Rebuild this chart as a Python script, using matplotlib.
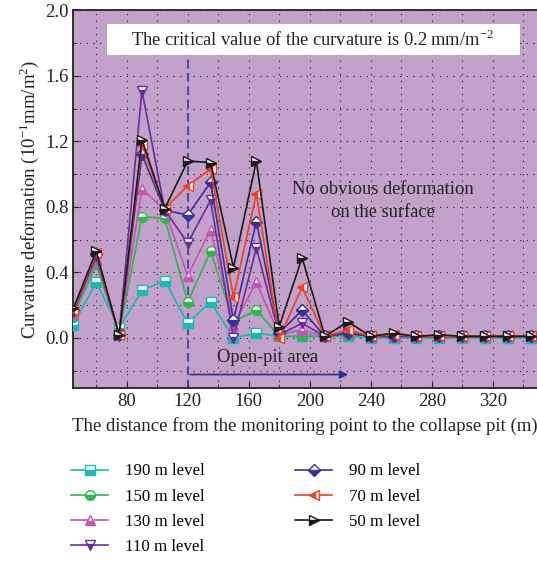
"""
Curvature deformation vs. distance to the collapse pit, per mining level
"""
import matplotlib.pyplot as plt
from matplotlib.patches import Rectangle, FancyArrowPatch
from matplotlib.ticker import MultipleLocator

plt.rcParams['font.family'] = ['Liberation Serif', 'DejaVu Serif']
plt.rcParams['mathtext.fontset'] = 'custom'
plt.rcParams['mathtext.rm'] = 'Liberation Serif'

# distance to the collapse pit (m)
distance = [45, 60, 75, 90, 105, 120, 135, 150, 165, 180, 195,
            210, 225, 240, 255, 270, 285, 300, 315, 330, 345]

level_190 = [0.08, 0.34, 0.06, 0.29, 0.35, 0.09, 0.22, 0.00, 0.03, 0.01, 0.01,
             0.01, 0.01, 0.00, 0.00, 0.00, 0.00, 0.00, 0.00, 0.00, 0.00]
level_150 = [0.13, 0.45, 0.03, 0.74, 0.73, 0.22, 0.53, 0.10, 0.17, 0.01, 0.01,
             0.01, 0.02, 0.01, 0.01, 0.01, 0.01, 0.01, 0.01, 0.01, 0.01]
level_130 = [0.15, 0.48, 0.03, 0.91, 0.78, 0.38, 0.66, 0.08, 0.34, 0.02, 0.05,
             0.01, 0.03, 0.01, 0.01, 0.01, 0.01, 0.01, 0.01, 0.01, 0.01]
level_110 = [0.16, 0.50, 0.02, 1.51, 0.78, 0.58, 0.84, 0.00, 0.55, 0.02, 0.09,
             0.01, 0.03, 0.01, 0.01, 0.01, 0.01, 0.01, 0.01, 0.01, 0.01]
level_90 = [0.17, 0.51, 0.02, 1.12, 0.78, 0.75, 0.95, 0.11, 0.71, 0.03, 0.17,
            0.01, 0.03, 0.01, 0.01, 0.01, 0.01, 0.01, 0.01, 0.01, 0.01]
level_70 = [0.17, 0.52, 0.02, 1.18, 0.79, 0.93, 1.03, 0.25, 0.88, 0.00, 0.31,
            0.01, 0.05, 0.01, 0.02, 0.01, 0.01, 0.01, 0.01, 0.01, 0.01]
level_50 = [0.18, 0.53, 0.02, 1.21, 0.79, 1.08, 1.07, 0.43, 1.08, 0.07, 0.49,
            0.01, 0.10, 0.01, 0.03, 0.01, 0.02, 0.01, 0.01, 0.01, 0.01]

labels = ['190 m level', '150 m level', '130 m level', '110 m level',
          '90 m level', '70 m level', '50 m level']
series = [level_190, level_150, level_130, level_110, level_90, level_70, level_50]
markers = ['s', 'o', '^', 'v', 'D', '<', '>']
fills = ['bottom', 'bottom', 'bottom', 'bottom', 'bottom', 'left', 'bottom']
line_colors = ['#1DB8B2', '#2DB84A', '#C554B2', '#6B2D9B', '#3A3096', '#F2401F', '#1A1A1A']

fig = plt.figure(figsize=(5.37, 5.61), dpi=100)
ax = fig.add_axes([0.1365, 0.3084, 0.8635, 0.6734])
ax.set_facecolor('#C2A1CB')

for vals, lab, mk, fs, col in zip(series, labels, markers, fills, line_colors):
    ax.plot(distance, vals, color=col, linewidth=1.2, marker=mk,
            markersize=7 if mk != 'D' else 6, fillstyle=fs,
            markerfacecolor=col, markerfacecoloralt='white',
            markeredgecolor=col, markeredgewidth=1.0, label=lab, zorder=3)

ax.set_xlim(45, 349)
ax.set_ylim(-0.305, 2.0)
ax.xaxis.set_major_locator(MultipleLocator(40))
ax.xaxis.set_minor_locator(MultipleLocator(20))
ax.yaxis.set_major_locator(MultipleLocator(0.4))
ax.yaxis.set_minor_locator(MultipleLocator(0.2))
ax.set_xticks([80, 120, 160, 200, 240, 280, 320])
ax.set_yticks([0.0, 0.4, 0.8, 1.2, 1.6, 2.0])
ax.yaxis.set_major_formatter(lambda v, p: f'{v:.1f}')
ax.tick_params(which='both', direction='in', labelsize=13.5, colors='#222222')
ax.tick_params(which='major', length=4)
ax.tick_params(which='minor', length=3)
ax.grid(which='both', color='#222222', linestyle=(0, (1, 5)), linewidth=0.8)
for side in ['left', 'bottom', 'top']:
    ax.spines[side].set_linewidth(1.3)
    ax.spines[side].set_color('#222222')
ax.spines['right'].set_visible(False)

ax.set_xlabel('The distance from the monitoring point to the collapse pit (m)',
              fontsize=13.5, color='#222222', labelpad=5)
ax.set_ylabel('Curvature deformation (10$^{-1}$mm/m$^{2}$)',
              fontsize=13.5, color='#222222', labelpad=3)

# critical value banner
ax.add_patch(Rectangle((67, 1.726), 271, 0.19, facecolor='white',
                       edgecolor='none', zorder=4))
ax.text(202, 1.82, 'The critical value of the curvature is 0.2\u2009mm/m$^{-2}$',
        ha='center', va='center', fontsize=13.3, color='#222222', zorder=5)

# open-pit boundary
ax.plot([120, 120], [-0.305, 1.71], color='#3A3A9E', linestyle=(0, (5, 3)),
        linewidth=1.2, zorder=2)
ax.add_patch(FancyArrowPatch((120, -0.223), (227, -0.223), arrowstyle='-|>',
                             mutation_scale=12, color='#2E3192', linewidth=1.2,
                             zorder=4))
ax.text(139, -0.116, 'Open-pit area', ha='left', va='center', fontsize=13.3,
        color='#222222')
ax.text(248, 0.835, 'No obvious deformation\non the surface', ha='center',
        va='center', fontsize=13.3, color='#222222', linespacing=1.45)

fig.legend(loc='upper left', bbox_to_anchor=(0.12, 0.186), ncol=2,
           frameon=False, fontsize=12.2, handlelength=2.2, handletextpad=1.0,
           columnspacing=5.3, labelspacing=0.55, borderaxespad=0)

plt.savefig('out.png', dpi=100)
